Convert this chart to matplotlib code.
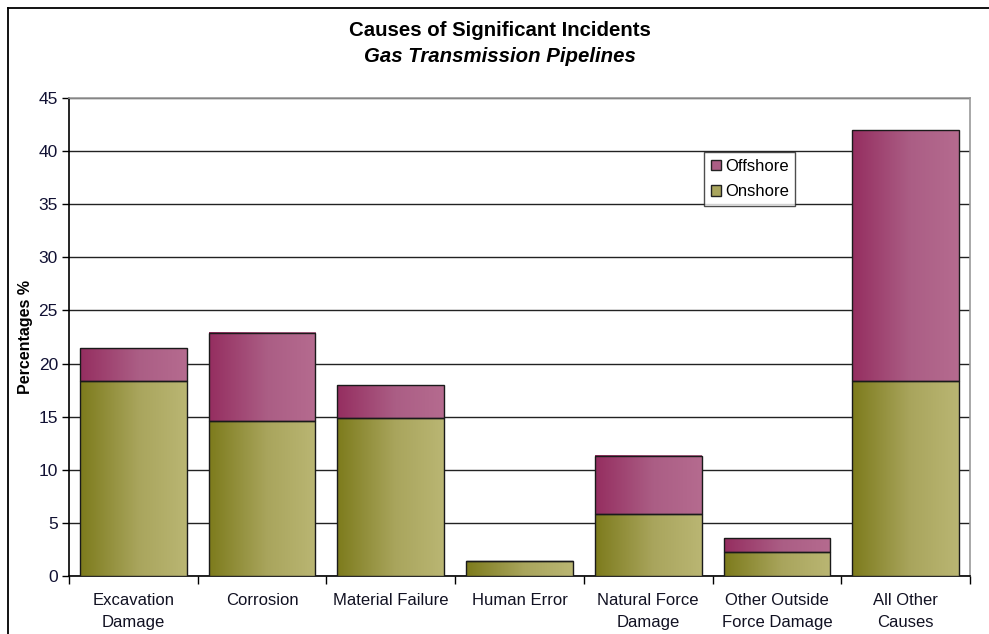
import numpy as np
import matplotlib
matplotlib.use("Agg")
import matplotlib.pyplot as plt
from matplotlib.colors import LinearSegmentedColormap
from matplotlib.patches import Rectangle
from matplotlib.lines import Line2D

plt.rcParams['font.family'] = ['Liberation Sans', 'DejaVu Sans']

categories = ["Excavation\nDamage", "Corrosion", "Material Failure", "Human Error",
              "Natural Force\nDamage", "Other Outside\nForce Damage", "All Other\nCauses"]
onshore = [18.4, 14.6, 14.9, 1.4, 5.8, 2.3, 18.4]
offshore = [3.1, 8.3, 3.1, 0.0, 5.5, 1.3, 23.6]

olive_cmap = LinearSegmentedColormap.from_list(
    "olive", [(0.0, "#7d7b1c"), (0.55, "#a9a55d"), (1.0, "#bab673")])
plum_cmap = LinearSegmentedColormap.from_list(
    "plum", [(0.0, "#952e60"), (0.55, "#ab5e85"), (1.0, "#b56b8f")])

fig = plt.figure(figsize=(9.89, 6.34), dpi=100)
ax = fig.add_axes([69 / 989, 1 - 576 / 634, (970 - 69) / 989, (576 - 98) / 634])

x = np.arange(len(categories))
width = 0.83

grad = np.linspace(0, 1, 256).reshape(1, -1)


def gradient_bars(xs, heights, bottoms, cmap, label):
    bars = ax.bar(xs, heights, width, bottom=bottoms, facecolor="none",
                  edgecolor="#1a1a1a", linewidth=1.0, zorder=4, label=label)
    for b in bars:
        if b.get_height() <= 0:
            continue
        x0, y0 = b.get_x(), b.get_y()
        w, h = b.get_width(), b.get_height()
        ax.imshow(grad, cmap=cmap, aspect="auto", extent=(x0, x0 + w, y0, y0 + h),
                  origin="lower", zorder=3, interpolation="bilinear")
    return bars


gradient_bars(x, onshore, 0, olive_cmap, "Onshore")
gradient_bars(x, offshore, onshore, plum_cmap, "Offshore")

ax.set_xlim(-0.5, len(categories) - 0.5)
ax.set_ylim(0, 45)
ax.set_yticks(np.arange(0, 46, 5))
ax.yaxis.grid(True, color="#222222", linewidth=1.0)
ax.set_axisbelow(True)

ax.set_xticks(x)
ax.set_xticklabels(categories, fontsize=12, color="#111122", linespacing=1.55)
ax.tick_params(axis="x", length=0, pad=12.5)
ax.set_xticks(np.arange(-0.5, len(categories)), minor=True)
ax.tick_params(axis="x", which="minor", length=6, width=1, color="black")
ax.tick_params(axis="y", length=5, width=1, color="black", labelsize=12.5,
               labelcolor="#111133", pad=3)

for side in ("left", "bottom"):
    ax.spines[side].set_color("black")
    ax.spines[side].set_linewidth(1.2)
for side in ("right", "top"):
    ax.spines[side].set_color("#999999")
    ax.spines[side].set_linewidth(1.2)

ax.set_ylabel("Percentages %", fontsize=11.5, fontweight="bold")
ax.yaxis.set_label_coords(-0.04, 0.5)

handles = [Rectangle((0, 0), 1, 1, facecolor="#ab5e85", edgecolor="#222222"),
           Rectangle((0, 0), 1, 1, facecolor="#a9a55d", edgecolor="#222222")]
leg = ax.legend(handles, ["Offshore", "Onshore"], loc="upper left",
                bbox_to_anchor=((704 - 69) / 901, (576 - 152) / 478),
                fontsize=12, frameon=True, fancybox=False, edgecolor="#222222",
                handlelength=0.6, handleheight=0.6, handletextpad=0.25,
                borderpad=0.4, labelspacing=0.65, borderaxespad=0)
leg.get_frame().set_linewidth(1.0)
leg.set_zorder(6)

fig.text(500 / 989, 1 - 30 / 634, "Causes of Significant Incidents", ha="center",
         va="center", fontsize=14.7, fontweight="bold")
fig.text(500 / 989, 1 - 57 / 634, "Gas Transmission Pipelines", ha="center",
         va="center", fontsize=14.7, fontweight="bold", style="italic")

# outer frame (top and left edges)
fig.add_artist(Line2D([8 / 989, 1.0], [1 - 8 / 634, 1 - 8 / 634], color="black",
                      linewidth=1.3, transform=fig.transFigure))
fig.add_artist(Line2D([8 / 989, 8 / 989], [0.0, 1 - 8 / 634], color="black",
                      linewidth=1.3, transform=fig.transFigure))

fig.savefig("out.png", dpi=100)
